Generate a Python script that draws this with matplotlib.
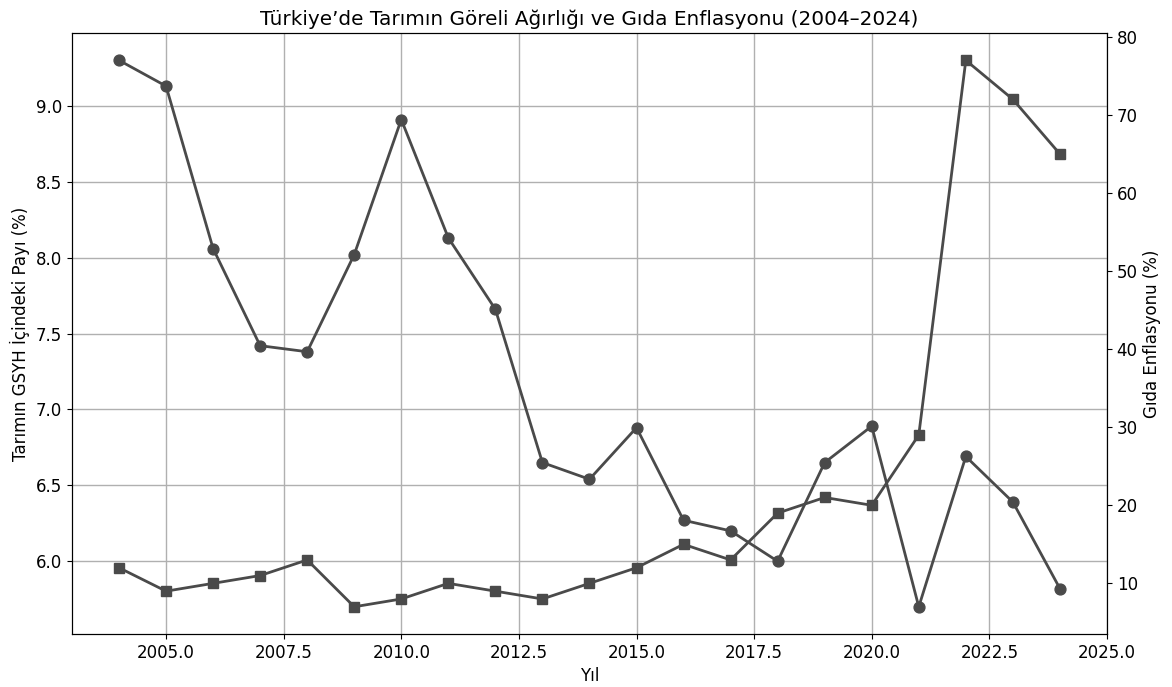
import matplotlib
matplotlib.use("Agg")
import matplotlib.pyplot as plt

plt.rcParams["font.family"] = ["DejaVu Sans"]
plt.rcParams["font.size"] = 12

years = list(range(2004, 2025))

tarim_payi = [
    9.30, 9.13, 8.06, 7.42, 7.38, 8.02, 8.91, 8.13, 7.66, 6.65, 6.54,
    6.88, 6.27, 6.20, 6.00, 6.65, 6.89, 5.70, 6.69, 6.39, 5.82
]

gida_enflasyonu = [
    12, 9, 10, 11, 13, 7, 8, 10, 9, 8, 10,
    12, 15, 13, 19, 21, 20, 29, 77, 72, 65
]

line_color = "#4a4a4a"

fig, ax1 = plt.subplots(figsize=(11.72, 6.87), dpi=100)
fig.subplots_adjust(left=0.0614, right=0.9445, top=0.952, bottom=0.077)

ax1.plot(
    years,
    tarim_payi,
    marker="o",
    markersize=7.8,
    linewidth=2.0,
    color=line_color
)
ax1.set_xlabel("Yıl")
ax1.set_ylabel("Tarımın GSYH İçindeki Payı (%)")
ax1.grid(True, color="#b0b0b0", linewidth=1.0)

ax2 = ax1.twinx()
ax2.plot(
    years,
    gida_enflasyonu,
    marker="s",
    markersize=7.8,
    linewidth=2.0,
    color=line_color
)
ax2.set_ylabel("Gıda Enflasyonu (%)")

ax1.set_title(
    "Türkiye’de Tarımın Göreli Ağırlığı ve Gıda Enflasyonu (2004–2024)",
    fontsize=14.4
)

fig.savefig("out.png", dpi=100)
